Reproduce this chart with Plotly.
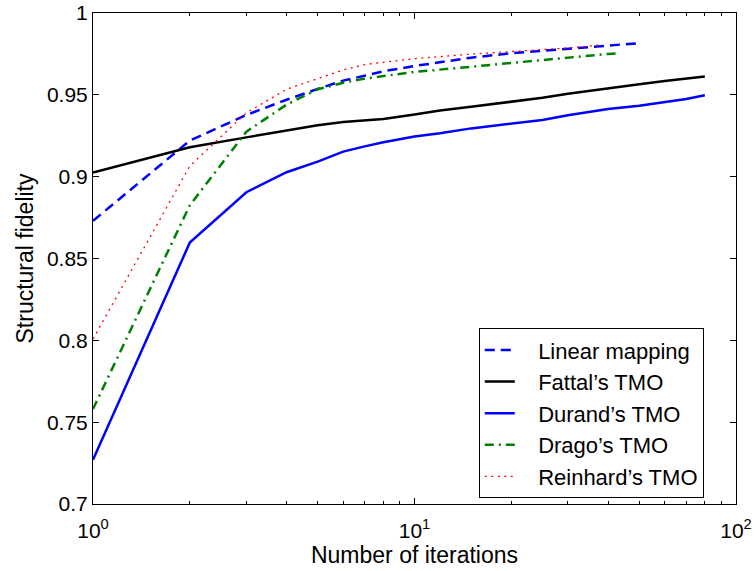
import plotly.graph_objects as go

# ---- data ----
lin_x = [1, 2, 3, 4, 5, 6, 7, 8, 10, 12, 15, 20, 25, 30, 35, 40, 45, 50]
lin_y = [0.873, 0.922, 0.9377, 0.947, 0.9536, 0.9587, 0.9617, 0.9644, 0.9676, 0.970,
         0.9727, 0.9754, 0.977, 0.9782, 0.9795, 0.9803, 0.9809, 0.9815]

fat_x = [1, 2, 3, 4, 5, 6, 8, 10, 12, 15, 20, 25, 30, 40, 50, 60, 70, 80]
fat_y = [0.9025, 0.918, 0.924, 0.928, 0.9314, 0.9334, 0.9353, 0.938, 0.9404, 0.9427,
         0.9458, 0.9482, 0.9507, 0.9542, 0.9565, 0.9584, 0.960, 0.9612]

dur_x = [1, 2, 3, 4, 5, 6, 7, 8, 10, 12, 15, 20, 25, 30, 40, 50, 60, 70, 80]
dur_y = [0.727, 0.8597, 0.8905, 0.9027, 0.9092, 0.9153, 0.9185, 0.921, 0.9245, 0.9265,
         0.9295, 0.9325, 0.9346, 0.9375, 0.9413, 0.9433, 0.9455, 0.9474, 0.9497]

dra_x = [1, 2, 3, 4, 5, 6, 7, 8, 10, 12, 15, 20, 25, 30, 35, 40, 43]
dra_y = [0.758, 0.8825, 0.9275, 0.944, 0.9534, 0.9574, 0.9599, 0.9615, 0.964, 0.9654,
         0.9672, 0.9697, 0.9713, 0.9727, 0.974, 0.975, 0.9754]

rei_x = [1, 2, 3, 4, 5, 6, 7, 8, 10, 15, 20, 25, 30, 35, 38]
rei_y = [0.8008, 0.9065, 0.939, 0.9534, 0.9599, 0.9652, 0.9685, 0.9699, 0.9721, 0.9749,
         0.9764, 0.9774, 0.9786, 0.9797, 0.9805]

names = ["Linear mapping", "Fattal\u2019s TMO", "Durand\u2019s TMO", "Drago\u2019s TMO", "Reinhard\u2019s TMO"]

y_ticks = [0.7, 0.75, 0.8, 0.85, 0.9, 0.95, 1.0]
y_ticktext = ["0.7", "0.75", "0.8", "0.85", "0.9", "0.95", "1"]
x_ticks = [1, 10, 100]
x_ticktext = ["10<sup>0</sup>", "10<sup>1</sup>", "10<sup>2</sup>"]
x_minor = [2, 3, 4, 5, 6, 7, 8, 9, 20, 30, 40, 50, 60, 70, 80, 90]

FONT = "Liberation Sans, Arial, Helvetica, sans-serif"
PAD = "\u00a0\u00a0\u00a0"

fig = go.Figure()
series = [
    (lin_x, lin_y, dict(color="rgb(0,0,255)", width=2.5, dash="10px,6px")),
    (fat_x, fat_y, dict(color="black", width=2.5)),
    (dur_x, dur_y, dict(color="rgb(0,0,255)", width=2.5)),
    (dra_x, dra_y, dict(color="rgb(0,128,0)", width=2.5, dash="9px,5px,2px,5px")),
    (rei_x, rei_y, dict(color="rgb(255,0,0)", width=1.3, dash="2px,4.5px")),
]
for i, (xs, ys, ln) in enumerate(series):
    fig.add_trace(go.Scatter(x=xs, y=ys, mode="lines", name=PAD + names[i], line=ln,
                             legendgroup=f"g{i}"))

fig.update_layout(
    width=756, height=571,
    margin=dict(l=93, r=20, t=13, b=67, autoexpand=False),
    paper_bgcolor="white", plot_bgcolor="white",
    font=dict(family=FONT, size=21, color="black"),
    showlegend=True,
    legend=dict(
        x=0.600, y=0.358, xanchor="left", yanchor="top",
        bgcolor="white", bordercolor="black", borderwidth=1,
        font=dict(size=22, family=FONT, color="black"),
        traceorder="grouped", tracegroupgap=0,
    ),
)
fig.update_xaxes(
    type="log", range=[0, 2], automargin=False,
    tickmode="array", tickvals=x_ticks, ticktext=x_ticktext,
    ticks="inside", ticklen=6, tickcolor="black",
    showline=True, linecolor="black", linewidth=1, mirror="ticks",
    showgrid=False, zeroline=False,
    minor=dict(tickmode="array", tickvals=x_minor, ticks="inside", ticklen=3,
               tickcolor="black", showgrid=False),
    title=dict(text="Number of iterations", font=dict(size=23), standoff=4),
    tickfont=dict(size=21),
    ticklabelstandoff=8,
)
fig.update_yaxes(
    range=[0.7, 1.0], automargin=False,
    tickmode="array", tickvals=y_ticks, ticktext=y_ticktext,
    ticks="inside", ticklen=6, tickcolor="black",
    showline=True, linecolor="black", linewidth=1, mirror="ticks",
    showgrid=False, zeroline=False,
    title=dict(text="Structural fidelity", font=dict(size=23), standoff=6),
    tickfont=dict(size=21),
)

fig.write_html("out.html", config={"displayModeBar": False},
               post_script="document.body.style.margin='0';document.body.style.overflow='hidden';")
